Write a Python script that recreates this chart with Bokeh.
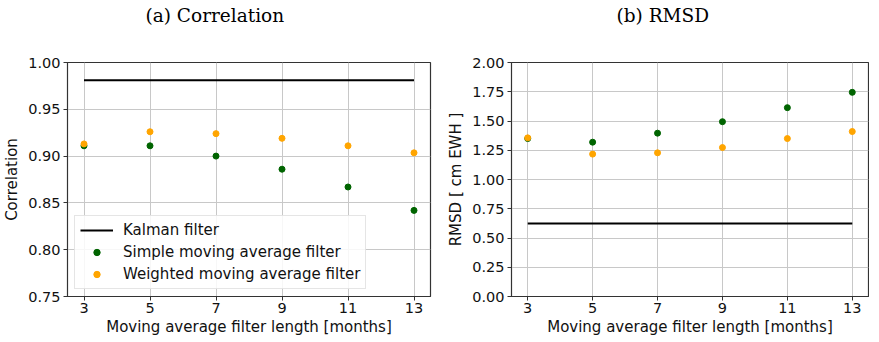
from bokeh.plotting import figure
from bokeh.layouts import row
from bokeh.models import Range1d, FixedTicker, NumeralTickFormatter, Legend, LegendItem, Title
from bokeh.embed import file_html
from bokeh.resources import INLINE

# ---- data ----
months = [3, 5, 7, 9, 11, 13]
x_ticks = [3, 5, 7, 9, 11, 13]

corr_kalman = 0.981
corr_simple = [0.911, 0.911, 0.900, 0.886, 0.867, 0.842]
corr_weighted = [0.913, 0.926, 0.924, 0.919, 0.911, 0.9035]
corr_ticks = [0.75, 0.80, 0.85, 0.90, 0.95, 1.00]

rmsd_kalman = 0.625
rmsd_simple = [1.35, 1.319, 1.396, 1.494, 1.614, 1.745]
rmsd_weighted = [1.356, 1.217, 1.228, 1.273, 1.350, 1.410]
rmsd_ticks = [0.0, 0.25, 0.5, 0.75, 1.0, 1.25, 1.5, 1.75, 2.0]

titles = ["(a) Correlation", "(b) RMSD"]
x_label = "Moving average filter length [months]"
y_labels = ["Correlation", "RMSD [ cm EWH ]"]
legend_labels = ["Kalman filter", "Simple moving average filter", "Weighted moving average filter"]

GREEN = "#006400"
ORANGE = "#FFA500"
FONT = "DejaVu Sans"
SERIF = "DejaVu Serif"


def make_fig(title, title_offset, ylab, yr, yticks, kal, simple, weighted,
             border_left, frame_w, border_right, legend=False):
    p = figure(frame_width=frame_w, frame_height=234,
               x_range=Range1d(2.5, 13.5), y_range=Range1d(*yr),
               output_backend="svg", toolbar_location=None,
               min_border_left=border_left, min_border_right=border_right,
               min_border_top=0, min_border_bottom=0)
    p.title = Title(text=title, align="left", offset=title_offset,
                    text_font=SERIF, text_font_size="18.5px", text_font_style="normal",
                    text_color="#000000", vertical_align="top", standoff=8)
    spacer = Title(text=" ", text_font_size="2px", standoff=27)
    p.add_layout(spacer, "above")
    p.outline_line_color = "#333333"
    p.outline_line_width = 1.2
    for ax in (p.xaxis[0], p.yaxis[0]):
        ax.axis_line_color = "#333333"
        ax.major_tick_line_color = "#333333"
        ax.major_tick_out = 4
        ax.major_tick_in = 0
        ax.minor_tick_line_color = None
        ax.major_label_text_font = FONT
        ax.major_label_text_font_size = "14.5px"
        ax.major_label_text_color = "#111111"
        ax.axis_label_text_font = FONT
        ax.axis_label_text_font_size = "15px"
        ax.axis_label_text_font_style = "normal"
        ax.axis_label_text_color = "#111111"
        ax.major_label_standoff = 3
        ax.axis_label_standoff = 4
    p.xaxis[0].major_label_standoff = 2
    p.xaxis[0].axis_label_standoff = 2
    p.xaxis[0].ticker = FixedTicker(ticks=x_ticks)
    p.yaxis[0].ticker = FixedTicker(ticks=yticks)
    p.yaxis[0].formatter = NumeralTickFormatter(format="0.00")
    p.xaxis[0].axis_label = x_label
    p.yaxis[0].axis_label = ylab
    p.grid.grid_line_color = "#c8c8c8"
    p.grid.grid_line_width = 1

    r_k = p.line([months[0], months[-1]], [kal, kal], line_color="black", line_width=2)
    r_s = p.scatter(months, simple, size=6, fill_color=GREEN, line_color=GREEN)
    r_w = p.scatter(months, weighted, size=6, fill_color=ORANGE, line_color=ORANGE)

    if legend:
        lg = Legend(items=[LegendItem(label=legend_labels[0], renderers=[r_k]),
                           LegendItem(label=legend_labels[1], renderers=[r_s]),
                           LegendItem(label=legend_labels[2], renderers=[r_w])],
                    location="bottom_left", margin=7, padding=5, spacing=4,
                    glyph_width=33, glyph_height=16, label_height=16,
                    label_standoff=10, label_text_font=FONT,
                    label_text_font_size="15px", label_text_color="#111111",
                    border_line_color="#cccccc", border_line_width=1,
                    background_fill_color="white", background_fill_alpha=0.85)
        p.add_layout(lg, "center")
    return p


p1 = make_fig(titles[0], 78, y_labels[0], (0.75, 1.0), corr_ticks,
              corr_kalman, corr_simple, corr_weighted, 60, 363, 6, legend=True)
p2 = make_fig(titles[1], 105, y_labels[1], (0.0, 2.0), rmsd_ticks,
              rmsd_kalman, rmsd_simple, rmsd_weighted, 75, 357, 1)

layout = row(p1, p2, spacing=0)
open("out.html", "w").write(file_html(layout, INLINE))
